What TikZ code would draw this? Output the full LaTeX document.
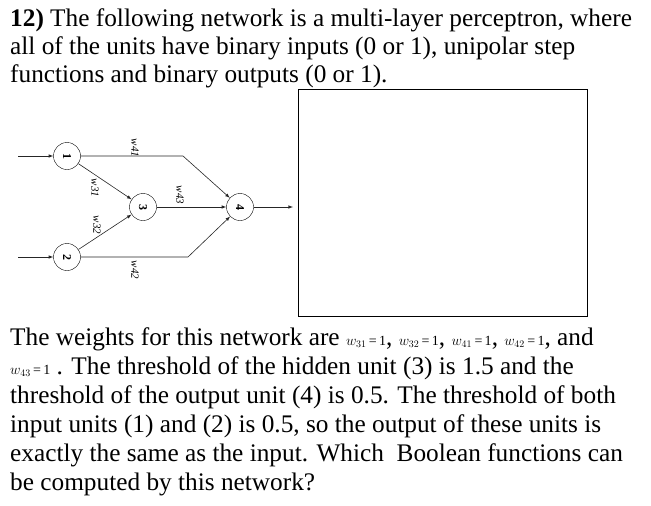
\documentclass[tikz,border=0pt]{standalone}
\usepackage{fontspec}
\setmainfont{Liberation Serif}
\newcommand\wsz{\fontsize{14}{14}\selectfont}
\begin{document}
\begin{tikzpicture}[x=1pt,y=-1pt,
  txt/.style={anchor=base west,inner sep=0pt,font=\fontsize{25.3}{28}\selectfont},
  unit/.style={draw,circle,minimum size=27pt,inner sep=0pt,font=\fontsize{12}{12}\selectfont\bfseries,rotate=-90},
  wl/.style={inner sep=0pt,font=\fontsize{11}{11}\selectfont\itshape,rotate=-90},
  con/.style={draw,semithick,-latex,black!85}]
\useasboundingbox (0,0) rectangle (651,506);
\node[txt] (l1) at (10,26) {\textbf{12)} The following network is a multi-layer perceptron, where};
\node[txt] (l2) at (10,54) {all of the units have binary inputs (0 or 1), unipolar step};
\node[txt] (l3) at (10,82) {functions and binary outputs (0 or 1).};
\node[draw,thick,minimum width=289pt,minimum height=227pt,anchor=north west,inner sep=0pt] (box) at (298,89) {};
% network
\node[unit] (n1) at (67,156) {1};
\node[unit] (n2) at (67,257) {2};
\node[unit] (n3) at (143,207) {3};
\node[unit] (n4) at (240,207) {4};
\coordinate (i1) at (18,156);
\coordinate (i2) at (18,257);
\coordinate (o) at (293,207);
\coordinate (b1) at (183,156);
\coordinate (b2) at (188,257);
\draw[con] (i1) -- (n1);
\draw[con] (i2) -- (n2);
\draw[con] (n1) -- (n3);
\draw[con] (n2) -- (n3);
\draw[con] (n3) -- (n4);
\draw[con] (n1) -- (b1) -- (n4);
\draw[con] (n2) -- (b2) -- (n4);
\draw[con] (n4) -- (o);
\node[wl] (w41) at (135,148) {w41};
\node[wl] (w31) at (95,188) {w31};
\node[wl] (w32) at (97,225) {w32};
\node[wl] (w43) at (180,195) {w43};
\node[wl] (w42) at (135,270) {w42};
% bottom text
\node[txt] (t1) at (10,345) {The weights for this network are {\wsz $w_{31}$\,=\,1}, {\wsz $w_{32}$\,=\,1}, {\wsz $w_{41}$\,=\,1}, {\wsz $w_{42}$\,=\,1}, and};
\node[txt] (t2) at (10,374) {{\wsz $w_{43}$\,=\,1} . The threshold of the hidden unit (3) is 1.5 and the};
\node[txt] (t3) at (10,403) {threshold of the output unit (4) is 0.5. The threshold of both};
\node[txt] (t4) at (10,432) {input units (1) and (2) is 0.5, so the output of these units is};
\node[txt] (t5) at (10,461) {exactly the same as the input. Which\ \ Boolean functions can};
\node[txt] (t6) at (10,490) {be computed by this network?};
\end{tikzpicture}
\end{document}
